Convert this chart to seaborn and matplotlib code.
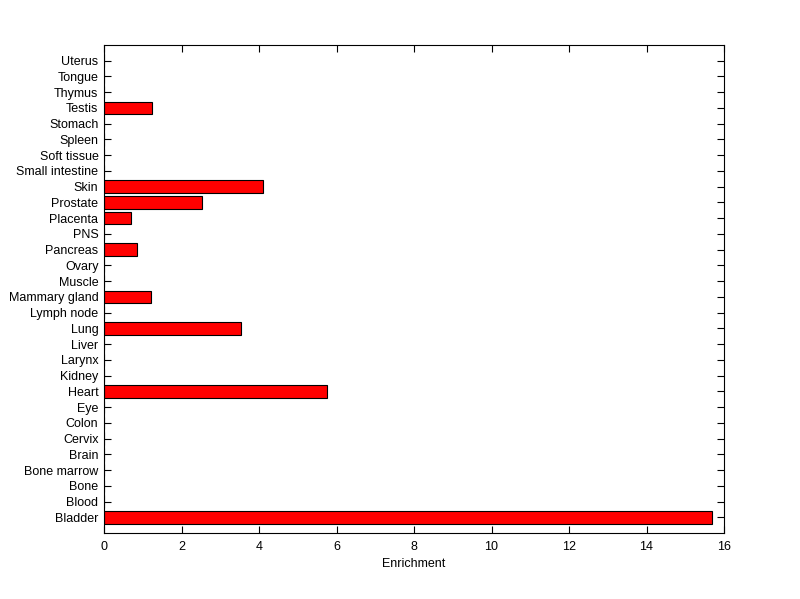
import numpy as np
import pandas as pd
import matplotlib
matplotlib.use("Agg")
import matplotlib.pyplot as plt
import seaborn as sns

# tissue categories, bottom to top as in the chart
tissues = ["Bladder", "Blood", "Bone", "Bone marrow", "Brain", "Cervix", "Colon",
           "Eye", "Heart", "Kidney", "Larynx", "Liver", "Lung", "Lymph node",
           "Mammary gland", "Muscle", "Ovary", "Pancreas", "PNS", "Placenta",
           "Prostate", "Skin", "Small intestine", "Soft tissue", "Spleen",
           "Stomach", "Testis", "Thymus", "Tongue", "Uterus"]
enrichment = [15.70, 0, 0, 0, 0, 0, 0,
              0, 5.76, 0, 0, 0, 3.53, 0,
              1.21, 0, 0, 0.86, 0, 0.70,
              2.53, 4.11, 0, 0, 0,
              0, 1.24, 0, 0, 0]

df = pd.DataFrame({"tissue": tissues, "enrichment": enrichment})

sns.set_style("white")
plt.rcParams["font.family"] = ["Liberation Sans", "DejaVu Sans"]
plt.rcParams["font.size"] = 9
plt.rcParams["text.color"] = "black"
plt.rcParams["axes.labelcolor"] = "black"
plt.rcParams["xtick.color"] = "black"
plt.rcParams["ytick.color"] = "black"

fig = plt.figure(figsize=(8, 5.99), dpi=100)
ax = fig.add_axes([0.13, 0.11, 0.775, 0.815])

order = tissues[::-1]  # top of chart first
sns.barplot(data=df, x="enrichment", y="tissue", order=order, orient="h",
            color="#ff0000", saturation=1, edgecolor="black", linewidth=0.8,
            width=0.8, ax=ax)

n = len(tissues)
ax.set_xlim(0, 16)
ax.set_ylim(n, -1)
ax.set_xticks(np.arange(0, 17, 2))
ax.set_xlabel("Enrichment", fontsize=9, labelpad=3)
ax.set_ylabel("")

for s in ax.spines.values():
    s.set_visible(True)
    s.set_color("black")
    s.set_linewidth(0.8)

ax.tick_params(axis="both", direction="in", length=5, width=0.8, color="black",
               labelcolor="black", bottom=True, left=True, top=True, right=True,
               labelsize=9)
ax.tick_params(axis="x", pad=6)
ax.tick_params(axis="y", pad=4)

fig.savefig("out.png", dpi=100)
